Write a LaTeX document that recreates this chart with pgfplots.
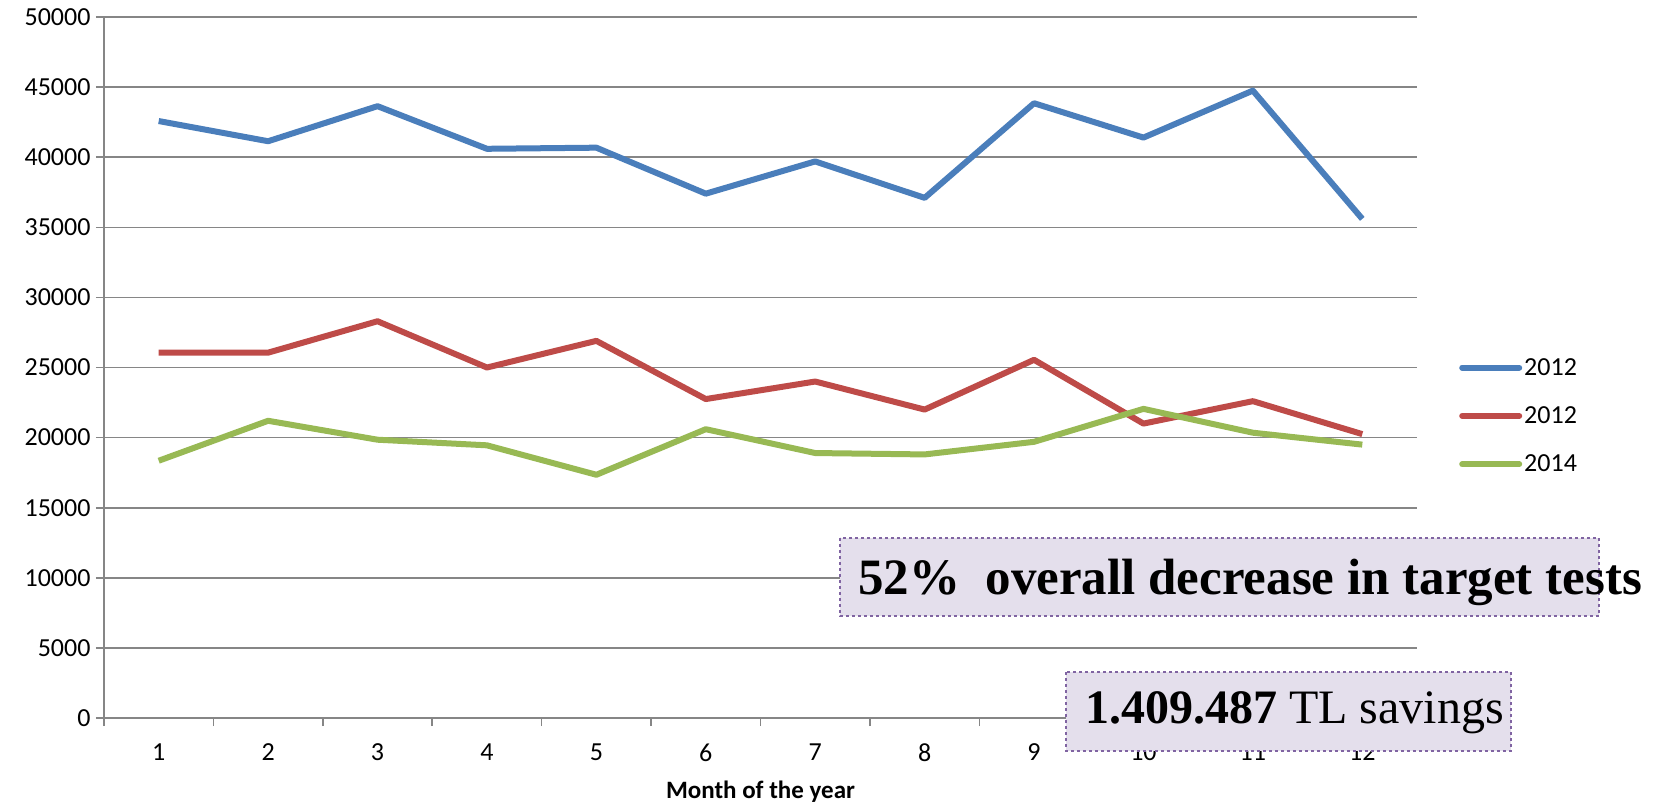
\documentclass[border=0pt]{standalone}
\usepackage{fontspec}
\setmainfont{Carlito}
\newfontfamily\boxfont{Liberation Serif}
\usepackage{pgfplots}
\pgfplotsset{compat=1.18}
\definecolor{sBlue}{RGB}{74,126,187}
\definecolor{sRed}{RGB}{190,75,72}
\definecolor{sGreen}{RGB}{152,185,84}
\definecolor{gridgray}{RGB}{134,134,134}
\definecolor{boxfill}{RGB}{228,223,236}
\definecolor{boxline}{RGB}{128,100,162}
\newcommand{\tickfont}{\fontsize{26}{31}\selectfont}
\begin{document}
\begin{tikzpicture}
\useasboundingbox (0pt,0pt) rectangle (1666pt,-807pt);
\begin{axis}[
  at={(104pt,-718pt)}, anchor=south west,
  scale only axis, width=1313pt, height=701pt,
  xmin=0.5, xmax=12.5, ymin=0, ymax=50000,
  axis x line=bottom, axis y line=left,
  axis line style={draw=gridgray, line width=2pt, -},
  xtick={0.5,1.5,...,12.5},
  x tick label as interval=true,
  xticklabels={1,2,3,4,5,6,7,8,9,10,11,12},
  ytick={0,5000,...,50000},
  scaled y ticks=false,
  ymajorgrids=true,
  grid style={draw=gridgray, line width=1.6pt},
  tick style={draw=gridgray, line width=1.6pt},
  tick align=outside, major tick length=8pt,
  /pgf/number format/assume math mode=true,
  /pgf/number format/1000 sep={},
  ticklabel style={font=\tickfont, text=black},
  yticklabel style={xshift=-2pt},
  xticklabel style={yshift=-14pt},
  xlabel={\textbf{Month of the year}},
  xlabel style={font=\fontsize{25}{30}\selectfont, yshift=-13pt},
  legend style={draw=none, fill=none, at={(1.032,0.431)}, anchor=west,
    font=\tickfont, row sep=26pt, inner sep=0pt},
  legend cell align=left,
  legend image code/.code={\draw[#1, line cap=round] (0pt,0pt) -- (57pt,0pt);},
  every axis plot/.append style={line width=6pt, line join=round},
  clip=false,
]
\addplot[sBlue] coordinates {(1,42580) (2,41140) (3,43640) (4,40600) (5,40680) (6,37400) (7,39700) (8,37100) (9,43850) (10,41400) (11,44750) (12,35600)};
\addlegendentry{2012}
\addplot[sRed] coordinates {(1,26060) (2,26060) (3,28300) (4,25000) (5,26900) (6,22750) (7,24000) (8,22000) (9,25550) (10,21000) (11,22600) (12,20250)};
\addlegendentry{2012}
\addplot[sGreen] coordinates {(1,18350) (2,21200) (3,19850) (4,19450) (5,17350) (6,20600) (7,18900) (8,18800) (9,19700) (10,22050) (11,20350) (12,19500)};
\addlegendentry{2014}
\end{axis}
\draw[boxline, fill=boxfill, dashed, line width=1.8pt] (840pt,-538pt) rectangle (1599pt,-616pt);
\node[anchor=west, inner sep=0pt, font=\boxfont\bfseries\fontsize{51}{60}\selectfont] at (858pt,-582pt) {52\%\ \ overall decrease in target tests};
\draw[boxline, fill=boxfill, dashed, line width=1.8pt] (1066pt,-672pt) rectangle (1511pt,-751pt);
\node[anchor=west, inner sep=0pt, font=\boxfont\fontsize{48}{57}\selectfont] at (1085pt,-713pt) {\textbf{1.409.487} TL savings};
\end{tikzpicture}
\end{document}
